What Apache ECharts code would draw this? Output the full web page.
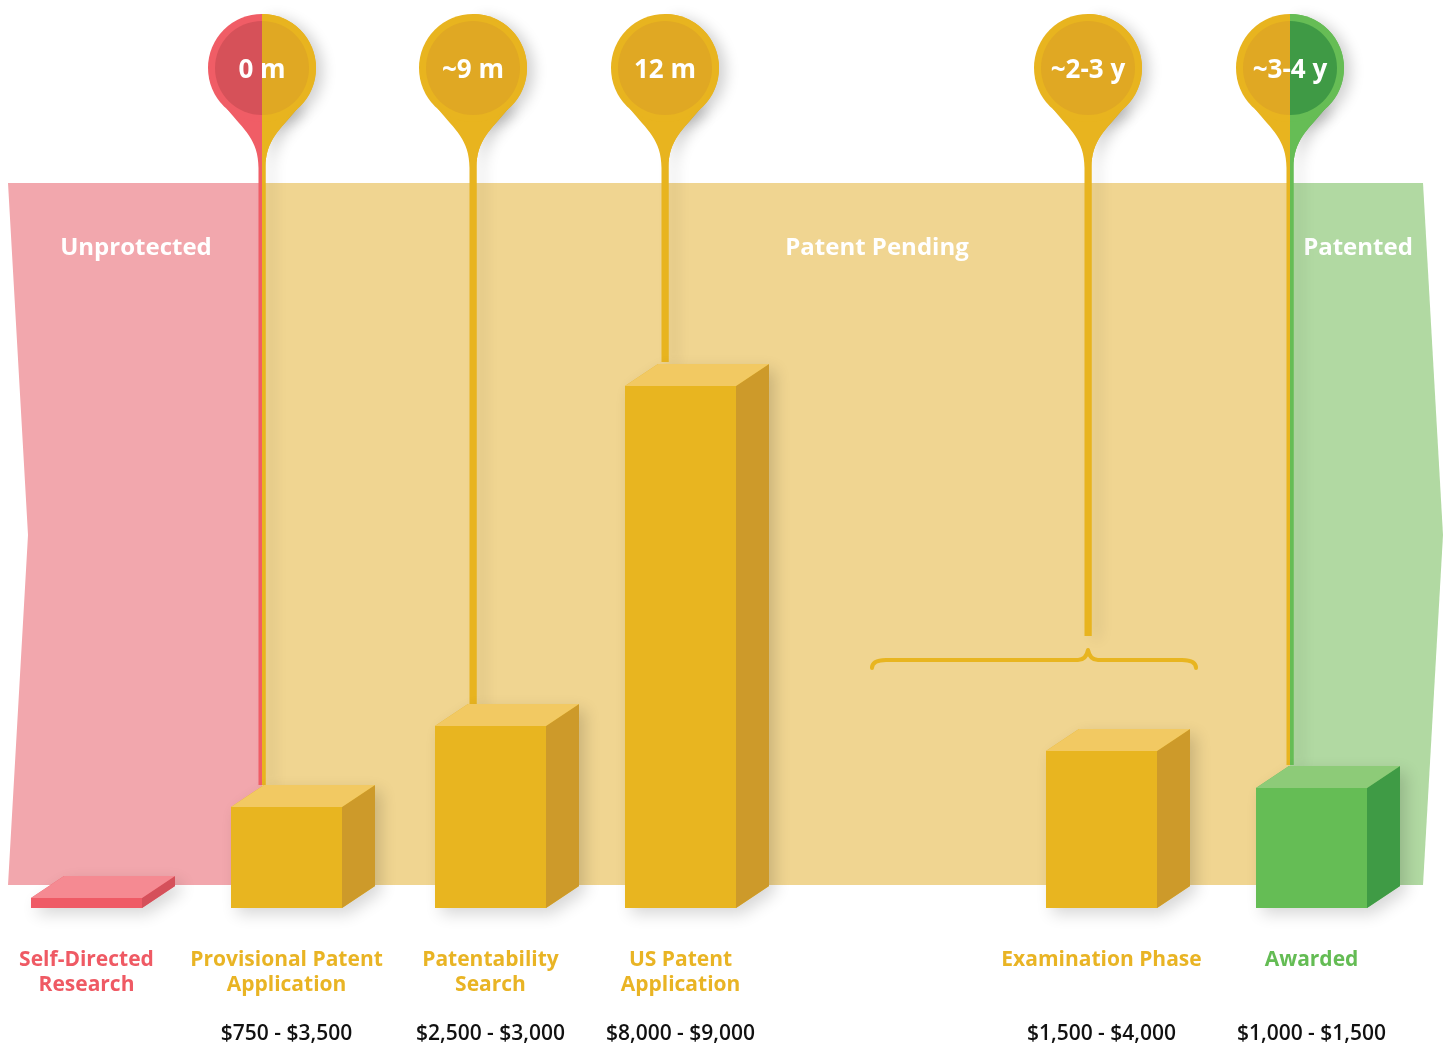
<!DOCTYPE html>
<html><head><meta charset="utf-8">
<script src="https://cdn.jsdelivr.net/npm/echarts@6/dist/echarts.min.js"></script>
<style>html,body{margin:0;padding:0;background:#fff}#c{width:1446px;height:1045px}</style>
</head><body><div id="c"></div>
<script>
// ---- data ----
const stages = ['Self-Directed\nResearch', 'Provisional Patent\nApplication', 'Patentability\nSearch', 'US Patent\nApplication', 'Examination Phase', 'Awarded'];
const stagePos = [0, 1, 2.02, 2.97, 5.075, 6.125];          // position along the timeline
const stageHeight = [1.93, 19.47, 35.08, 100.6, 30.26, 23.13]; // relative cost (bar height)
const stageCost = ['', '$750 - $3,500', '$2,500 - $3,000', '$8,000 - $9,000', '$1,500 - $4,000', '$1,000 - $1,500'];
const stagePhase = [0, 1, 1, 1, 1, 2];

const pinLabels = ['0 m', '~9 m', '12 m', '~2-3 y', '~3-4 y'];
const pinPos = [0.8775, 1.9325, 2.8925, 5.0075, 6.0175];
const pinEnd = [23.71, 38.55, 105.23, 52.42, 27.56];
const pinPhases = [[0, 1], [1, 1], [1, 1], [1, 1], [1, 2]];

const phaseNames = ['Unprotected', 'Patent Pending', 'Patented'];
const phaseLabelPos = [0.2475, 3.9525, 6.3575];
const phaseEdges = [-0.3925, 0.8775, 6.0175, 6.6825];
const braceRange = [3.9275, 5.5475];

// ---- layout / style constants ----
const BAND_TOP = 139.73, BAND_BOTTOM = 4.43, BAND_MID = 71.89, BAND_LABEL_Y = 127.2;
const PIN_Y = 161.9, BRACE_Y = 47.8;
const BAR_W = 111, DX = 33, DY = 22, NOTCH = 20;
const PIN_R = 54, PIN_RI = 47, STEM_W = 7;
const FONT = '"Open Sans", "Noto Sans", sans-serif';

const PH = [
  {band: '#F2A7AD', front: '#EF5B66', top: '#F58A92', side: '#D5505A', pinO: '#F05D66', pinI: '#D65159', text: '#EF5A64'},
  {band: '#F0D591', front: '#E8B520', top: '#F2C962', side: '#CD9A2A', pinO: '#E8B41F', pinI: '#E0A823', text: '#E9B424'},
  {band: '#B1D9A2', front: '#65BD55', top: '#8DCB78', side: '#3F9B45', pinO: '#66BD55', pinI: '#3F9A45', text: '#64BC54'}
];

function renderBand(params, api) {
  const i = params.dataIndex;
  const x0 = phaseEdges[i], x1 = phaseEdges[i + 1];
  const tl = api.coord([x0, BAND_TOP]), tr = api.coord([x1, BAND_TOP]);
  const br = api.coord([x1, BAND_BOTTOM]), bl = api.coord([x0, BAND_BOTTOM]);
  const my = api.coord([x0, BAND_MID])[1];
  let pts;
  if (i === 0) pts = [tl, tr, br, bl, [bl[0] + NOTCH, my]];
  else if (i === 2) pts = [tl, tr, [tr[0] + NOTCH, my], br, bl];
  else pts = [tl, tr, br, bl];
  const lp = api.coord([phaseLabelPos[i], BAND_LABEL_Y]);
  return {type: 'group', children: [
    {type: 'polygon', shape: {points: pts}, style: {fill: PH[i].band}},
    {type: 'text', x: lp[0], y: lp[1], style: {text: phaseNames[i], fill: '#fff', font: '700 24px ' + FONT, align: 'center', verticalAlign: 'middle'}}
  ]};
}

function renderBrace(params, api) {
  const a = api.coord([braceRange[0], BRACE_Y]), b = api.coord([braceRange[1], BRACE_Y]);
  const cx = api.coord([pinPos[3], BRACE_Y])[0];
  const y = a[1], x0 = a[0], x1 = b[0];
  const d = `M${x0},${y + 8} Q${x0},${y} ${x0 + 14},${y} L${cx - 10},${y} Q${cx - 2},${y} ${cx},${y - 10} Q${cx + 2},${y} ${cx + 10},${y} L${x1 - 14},${y} Q${x1},${y} ${x1},${y + 8}`;
  return {type: 'path', shape: {pathData: d}, style: {fill: null, stroke: '#E8B520', lineWidth: 4, lineCap: 'round', lineJoin: 'round'}};
}

function halfPin(cx, cy, ey, side, c, shadow) {
  const a = 40 * Math.PI / 180;
  const px = cx + side * PIN_R * Math.sin(a), py = cy + PIN_R * Math.cos(a);
  const sw = STEM_W / 2;
  const d = `M${cx},${cy} L${px},${py} C${cx + side * 18},${cy + 62} ${cx + side * sw},${cy + 72} ${cx + side * sw},${cy + 100} L${cx + side * sw},${ey} L${cx},${ey} Z`;
  const start = side < 0 ? Math.PI / 2 : -Math.PI / 2;
  const end = side < 0 ? Math.PI * 1.5 : Math.PI / 2;
  const sh = shadow ? {shadowBlur: 14, shadowOffsetX: 7, shadowOffsetY: 3, shadowColor: 'rgba(0,0,0,0.18)'} : {};
  return [
    {type: 'path', shape: {pathData: d}, style: Object.assign({fill: c.pinO}, sh)},
    {type: 'sector', shape: {cx: cx, cy: cy, r0: 0, r: PIN_R, startAngle: start, endAngle: end}, style: Object.assign({fill: c.pinO}, sh)},
    {type: 'sector', shape: {cx: cx, cy: cy, r0: 0, r: PIN_RI, startAngle: start, endAngle: end}, style: {fill: c.pinI}}
  ];
}

function renderPin(params, api) {
  const i = params.dataIndex;
  const p = api.coord([pinPos[i], PIN_Y]);
  const ey = api.coord([pinPos[i], pinEnd[i]])[1];
  const [lp, rp] = pinPhases[i];
  const children = [].concat(
    halfPin(p[0], p[1], ey, 1, PH[rp], true),
    halfPin(p[0], p[1], ey, -1, PH[lp], false),
    halfPin(p[0], p[1], ey, 1, PH[rp], false),
    [{type: 'text', x: p[0], y: p[1] + 3, style: {text: pinLabels[i], fill: '#fff', font: '700 26px ' + FONT, align: 'center', verticalAlign: 'middle'}}]
  );
  return {type: 'group', children: children};
}

function renderBar(params, api) {
  const i = params.dataIndex;
  const c = PH[stagePhase[i]];
  const base = api.coord([api.value(0), 0]);
  const topP = api.coord([api.value(0), api.value(1)]);
  const l = base[0] - BAR_W / 2, r = base[0] + BAR_W / 2, b = base[1], t = topP[1];
  const sil = [[l, b], [l, t], [l + DX, t - DY], [r + DX, t - DY], [r + DX, b - DY], [r, b]];
  return {type: 'group', children: [
    {type: 'polygon', shape: {points: sil}, style: {fill: c.front, shadowBlur: 16, shadowOffsetX: 6, shadowOffsetY: 6, shadowColor: 'rgba(0,0,0,0.16)'}},
    {type: 'polygon', shape: {points: [[r, t], [r + DX, t - DY], [r + DX, b - DY], [r, b]]}, style: {fill: c.side}},
    {type: 'rect', shape: {x: l, y: t, width: BAR_W, height: b - t}, style: {fill: c.front}},
    {type: 'polygon', shape: {points: [[l, t], [l + DX, t - DY], [r + DX, t - DY], [r, t]]}, style: {fill: c.top}}
  ]};
}

function renderLabel(params, api) {
  const i = params.dataIndex;
  const c = PH[stagePhase[i]];
  const p = api.coord([stagePos[i], 0]);
  return {type: 'group', children: [
    {type: 'text', x: p[0], y: p[1] + 39, style: {text: stages[i], fill: c.text, font: '700 21px ' + FONT, align: 'center', verticalAlign: 'top', lineHeight: 25}},
    {type: 'text', x: p[0], y: p[1] + 126, style: {text: stageCost[i], fill: '#111', font: '600 21px ' + FONT, align: 'center', verticalAlign: 'middle'}}
  ]};
}

const chart = echarts.init(document.getElementById('c'), null, {renderer: 'canvas'});
chart.setOption({
  backgroundColor: '#fff',
  animation: false,
  grid: {left: 0, right: 0, top: 0, bottom: 0},
  xAxis: {type: 'value', min: -0.4325, max: 6.7975, show: false},
  yAxis: {type: 'value', min: -26.4, max: 175, show: false},
  series: [
    {type: 'custom', renderItem: renderBand, data: phaseNames.map((n, i) => [i]), z: 1, silent: true},
    {type: 'custom', renderItem: renderBrace, data: [[braceRange[0]]], z: 2, silent: true},
    {type: 'custom', renderItem: renderPin, data: pinLabels.map((n, i) => [pinPos[i], pinEnd[i]]), z: 3, silent: true},
    {type: 'custom', renderItem: renderBar, data: stagePos.map((x, i) => [x, stageHeight[i]]), z: 4, silent: true},
    {type: 'custom', renderItem: renderLabel, data: stagePos.map((x, i) => [x, 0]), z: 5, silent: true}
  ]
});
</script>
</body></html>
